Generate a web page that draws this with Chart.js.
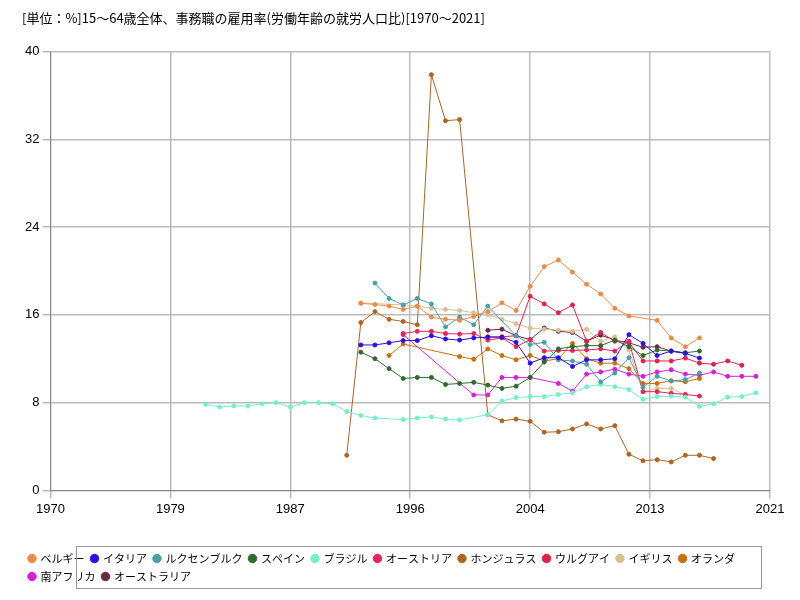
<!DOCTYPE html>
<html>
<head>
<meta charset="utf-8">
<script src="https://cdn.jsdelivr.net/npm/chart.js@4/dist/chart.umd.min.js"></script>
<style>
  body { margin: 0; background: #fff; }
  #wrap { width: 800px; height: 600px; position: relative; }
</style>
</head>
<body>
<div id="wrap"><canvas id="c" width="800" height="600"></canvas></div>
<script>
// [year, value] pairs per country
const belgium = [[1992,17.05],[1993,16.95],[1994,16.8],[1995,16.5],[1996,16.8],[1997,15.8],[1998,15.6],[1999,15.5],[2000,15.85],[2001,16.3],[2002,17.1],[2003,16.4],[2004,18.6],[2005,20.4],[2006,21.0],[2007,19.9],[2008,18.8],[2009,17.9],[2010,16.6],[2011,15.9],[2013,15.5],[2014,13.9],[2015,13.1],[2016,13.9]];
const italy = [[1992,13.26],[1993,13.26],[1994,13.45],[1995,13.66],[1996,13.66],[1997,14.1],[1998,13.8],[1999,13.7],[2000,13.9],[2001,13.97],[2002,13.97],[2003,13.5],[2004,11.6],[2005,12.1],[2006,12.1],[2007,11.3],[2008,11.9],[2009,11.9],[2010,12.0],[2011,14.2],[2012,13.4],[2013,12.3],[2014,12.7],[2015,12.5],[2016,12.06]];
const luxembourg = [[1993,18.9],[1994,17.5],[1995,16.9],[1996,17.5],[1997,17.0],[1998,14.9],[1999,15.8],[2000,15.1],[2001,16.8],[2003,14.1],[2004,13.3],[2005,13.5],[2006,11.9],[2007,11.8],[2008,11.5],[2009,9.9],[2010,10.7],[2011,12.1],[2012,9.4],[2013,10.4],[2014,9.97],[2015,10.1],[2016,10.7]];
const spain = [[1992,12.6],[1993,12.0],[1994,11.1],[1995,10.2],[1996,10.3],[1997,10.3],[1998,9.66],[1999,9.75],[2000,9.85],[2001,9.6],[2002,9.3],[2003,9.5],[2004,10.3],[2005,11.7],[2006,12.9],[2007,13.1],[2008,13.2],[2009,13.2],[2010,13.7],[2011,13.1],[2012,12.3],[2013,12.8],[2014,12.7],[2015,12.55],[2016,12.7]];
const brazil = [[1981,7.85],[1982,7.6],[1983,7.7],[1984,7.7],[1985,7.9],[1986,8.0],[1987,7.6],[1988,8.0],[1989,8.0],[1990,7.9],[1991,7.2],[1992,6.83],[1993,6.6],[1995,6.46],[1996,6.6],[1997,6.7],[1998,6.5],[1999,6.43],[2001,6.9],[2002,8.15],[2003,8.46],[2004,8.55],[2005,8.55],[2006,8.74],[2007,8.9],[2008,9.45],[2009,9.66],[2010,9.45],[2011,9.2],[2012,8.3],[2013,8.55],[2014,8.6],[2015,8.5],[2016,7.66],[2017,7.9],[2018,8.5],[2019,8.55],[2020,8.9]];
const austria = [[1995,14.3],[1996,14.5],[1997,14.5],[1998,14.3],[1999,14.25],[2000,14.3],[2001,13.7],[2002,13.9],[2003,13.1],[2004,13.75],[2005,12.7],[2006,12.75],[2007,12.75],[2008,12.8],[2009,12.9],[2010,12.7],[2011,13.6],[2012,9.0],[2013,9.0],[2014,8.85],[2015,8.75],[2016,8.6]];
const honduras = [[1991,3.2],[1992,15.3],[1993,16.3],[1994,15.6],[1995,15.4],[1996,15.1],[1997,37.9],[1998,33.7],[1999,33.8],[2001,6.9],[2002,6.34],[2003,6.5],[2004,6.3],[2005,5.3],[2006,5.35],[2007,5.6],[2008,6.06],[2009,5.6],[2010,5.9],[2011,3.3],[2012,2.7],[2013,2.8],[2014,2.6],[2015,3.2],[2016,3.2],[2017,2.9]];
const uruguay = [[2001,14.0],[2002,14.0],[2003,14.1],[2004,17.7],[2005,17.0],[2006,16.2],[2007,16.9],[2008,13.6],[2009,14.4],[2010,13.6],[2011,13.5],[2012,11.8],[2013,11.8],[2014,11.8],[2015,12.06],[2016,11.6],[2017,11.5],[2018,11.8],[2019,11.4]];
const uk = [[1992,17.1],[1995,16.9],[1996,16.8],[1997,16.6],[1998,16.5],[1999,16.4],[2000,16.2],[2001,16.0],[2002,15.6],[2003,15.2],[2004,14.8],[2005,14.7],[2006,14.6],[2007,14.5],[2008,14.7],[2009,13.6],[2010,14.0],[2011,12.8],[2012,9.0],[2013,9.3],[2014,9.3],[2015,8.7]];
const netherlands = [[1994,12.3],[1995,13.35],[1999,12.2],[2000,11.95],[2001,12.9],[2002,12.3],[2003,11.9],[2004,12.3],[2005,11.8],[2006,12.0],[2007,13.4],[2008,12.0],[2009,11.6],[2010,11.6],[2011,11.1],[2012,9.75],[2013,9.75],[2014,10.0],[2015,9.9],[2016,10.2]];
const southAfrica = [[1995,14.2],[2000,8.7],[2001,8.7],[2002,10.3],[2003,10.3],[2004,10.3],[2006,9.75],[2007,9.05],[2008,10.6],[2009,10.8],[2010,11.05],[2011,10.6],[2012,10.4],[2013,10.8],[2014,11.0],[2015,10.6],[2016,10.5],[2017,10.8],[2018,10.4],[2019,10.4],[2020,10.4]];
const australia = [[2001,14.6],[2002,14.7],[2003,14.1],[2004,13.75],[2005,14.8],[2006,14.5],[2007,14.4],[2008,13.6],[2009,14.15],[2010,13.7],[2011,13.45],[2012,13.05],[2013,13.1],[2014,12.7],[2015,12.5]];

const names = ["ベルギー","イタリア","ルクセンブルク","スペイン","ブラジル","オーストリア","ホンジュラス","ウルグアイ","イギリス","オランダ","南アフリカ","オーストラリア"];
const series = [belgium, italy, luxembourg, spain, brazil, austria, honduras, uruguay, uk, netherlands, southAfrica, australia];
const colors = ["#ec8a48","#2a10e6","#48a0a8","#2f6a2f","#74f0c8","#e8245a","#b0641e","#e0204a","#d8c090","#c87010","#d420d8","#6a2a40"];
const xTicks = [1970, 1978.5, 1987, 1995.5, 2004, 2012.5, 2021];
const yTicks = [0, 8, 16, 24, 32, 40];

const legendBox = {
  id: "legendBox",
  afterDraw(chart) {
    const l = chart.legend;
    const ctx = chart.ctx;
    ctx.save();
    ctx.strokeStyle = "#999";
    ctx.lineWidth = 1;
    ctx.strokeRect(76.5, l.top + 0.5, 685, l.height - 4);
    ctx.restore();
  }
};

new Chart(document.getElementById("c"), {
  type: "line",
  data: {
    datasets: series.map((s, i) => ({
      label: names[i],
      data: s.map(p => ({ x: p[0], y: p[1] })),
      borderColor: colors[i],
      backgroundColor: colors[i],
      borderWidth: 1,
      pointRadius: 2,
      pointStyle: "circle",
      spanGaps: true
    }))
  },
  options: {
    responsive: false,
    animation: false,
    layout: { padding: { left: 22, right: 30, top: 8, bottom: 8 } },
    plugins: {
      title: {
        display: true,
        text: "[単位：%]15～64歳全体、事務職の雇用率(労働年齢の就労人口比)[1970～2021]",
        align: "start",
        color: "#000",
        font: { family: "Noto Sans CJK JP", size: 13, weight: "normal" },
        padding: { top: 2, bottom: 26 }
      },
      legend: {
        position: "bottom",
        align: "start",
        labels: {
          usePointStyle: true,
          boxWidth: 6,
          boxHeight: 6,
          padding: 7,
          color: "#000",
          font: { family: "Noto Sans CJK JP", size: 11 }
        }
      },
      tooltip: { enabled: false }
    },
    scales: {
      x: {
        type: "linear",
        min: 1970,
        max: 2021,
        afterBuildTicks: ax => { ax.ticks = xTicks.map(v => ({ value: v })); },
        afterFit: ax => { ax.height += 26; },
        ticks: { callback: v => Math.round(v), color: "#000", font: { size: 13 }, maxRotation: 0 },
        grid: { color: "#bbb", lineWidth: 1.5 },
        border: { color: "#888" }
      },
      y: {
        min: 0,
        max: 40,
        afterBuildTicks: ax => { ax.ticks = yTicks.map(v => ({ value: v })); },
        ticks: { color: "#000", font: { size: 13 } },
        grid: { color: "#bbb", lineWidth: 1.5 },
        border: { color: "#888" }
      }
    }
  },
  plugins: [legendBox]
});
</script>
</body>
</html>
